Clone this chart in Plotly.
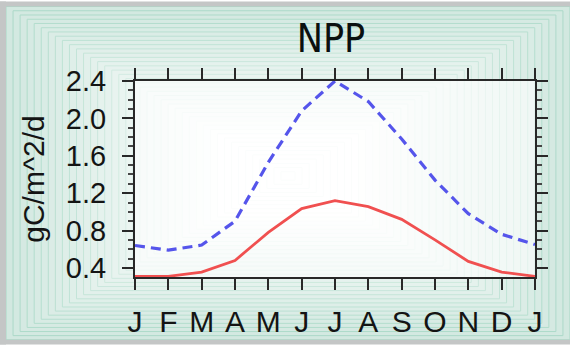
import plotly.graph_objects as go

# ---- data ----
months = ["J", "F", "M", "A", "M", "J", "J", "A", "S", "O", "N", "D", "J"]
month_pos = list(range(13))
npp_dashed = [0.64, 0.59, 0.645, 0.90, 1.53, 2.08, 2.40, 2.18, 1.78, 1.34, 0.98, 0.76, 0.65]
npp_solid = [0.31, 0.31, 0.355, 0.48, 0.78, 1.035, 1.12, 1.055, 0.92, 0.70, 0.47, 0.355, 0.31]
y_ticks = [0.4, 0.8, 1.2, 1.6, 2.0, 2.4]
y_ticktext = ["0.4", "0.8", "1.2", "1.6", "2.0", "2.4"]

W, H = 570, 350
ML, MR, MT, MB = 135, 35, 81, 69
PW, PH = W - ML - MR, H - MT - MB


def px2paper_x(px):
    return (px - ML) / PW


def px2paper_y(py):
    return (H - MB - py) / PH


def mix(c1, c2, t):
    return "rgb(%d,%d,%d)" % tuple(round(a + (b - a) * t) for a, b in zip(c1, c2))


shapes = []
# nested rectangle background (converging toward image centre)
N = 40
x0e, y0e, x1e, y1e = 6, 5, 570, 345
cx, cy = 288, 178
edge_fill = (210, 232, 224)
edge_line = (168, 216, 198)
white = (255, 255, 255)
for i in range(N):
    t = i / N
    a = x0e + (cx - x0e) * t
    b = y0e + (cy - y0e) * t
    c = x1e - (x1e - cx) * t
    d = y1e - (y1e - cy) * t
    tf = min(1.0, t * 1.3)
    shapes.append(dict(
        type="rect", xref="paper", yref="paper", layer="below",
        x0=px2paper_x(a), x1=px2paper_x(c), y0=px2paper_y(d), y1=px2paper_y(b),
        fillcolor=mix(edge_fill, white, tf),
        line=dict(color=mix(edge_line, (245, 250, 248), min(1.0, t * 1.4)), width=1),
    ))

# grey border (top, left, bottom)
grey = "rgb(196,198,198)"
for (a, b, c, d) in [(0, 0, 570, 5), (0, 0, 6, 350), (0, 345, 570, 350)]:
    shapes.append(dict(
        type="rect", xref="paper", yref="paper", layer="below",
        x0=px2paper_x(a), x1=px2paper_x(c), y0=px2paper_y(d), y1=px2paper_y(b),
        fillcolor=grey, line=dict(width=0),
    ))

# lighter plot area
shapes.append(dict(
    type="rect", xref="paper", yref="paper", layer="below",
    x0=0, x1=1, y0=0, y1=1,
    fillcolor="rgba(255,255,255,0.6)", line=dict(width=0),
))

fig = go.Figure()
fig.add_trace(go.Scatter(
    x=month_pos, y=npp_dashed, mode="lines",
    line=dict(color="rgb(85,85,235)", width=3.2, dash="10px,6px"),
    showlegend=False, hoverinfo="skip",
))
fig.add_trace(go.Scatter(
    x=month_pos, y=npp_solid, mode="lines",
    line=dict(color="rgb(240,80,80)", width=2.8),
    showlegend=False, hoverinfo="skip",
))

font_main = "Liberation Sans, Arial, Helvetica, sans-serif"
axis_color = "rgb(40,40,40)"

fig.update_layout(
    width=W, height=H,
    margin=dict(l=ML, r=MR, t=MT, b=MB, pad=0),
    paper_bgcolor="white",
    plot_bgcolor="rgba(0,0,0,0)",
    shapes=shapes,
    title=dict(
        text="NPP", x=331 / W, xanchor="center",
        y=1 - 52 / H, yanchor="bottom",
        font=dict(family="Liberation Sans Narrow, Arial Narrow, DejaVu Sans Condensed, Liberation Sans, sans-serif",
                  size=39, color="rgb(10,15,15)"),
    ),
    font=dict(family=font_main, color="rgb(20,20,20)"),
    xaxis=dict(
        range=[0, 12], tickmode="array", tickvals=month_pos, ticktext=months,
        ticks="outside", ticklen=11, tickwidth=2, tickcolor=axis_color,
        showline=True, linecolor=axis_color, linewidth=2, mirror="ticks",
        showgrid=False, zeroline=False,
        tickfont=dict(size=30, family=font_main), ticklabelstandoff=6,
    ),
    yaxis=dict(
        range=[0.303, 2.40], tickmode="array", tickvals=y_ticks, ticktext=y_ticktext,
        ticks="outside", ticklen=11, tickwidth=2, tickcolor=axis_color,
        showline=True, linecolor=axis_color, linewidth=2, mirror="ticks",
        showgrid=False, zeroline=False,
        minor=dict(dtick=0.1, tick0=0.0, ticks="outside", ticklen=5, tickwidth=1.5,
                   tickcolor="rgb(70,70,70)", showgrid=False),
        tickfont=dict(size=29, family=font_main), ticklabelstandoff=10,
        title=dict(text="gC/m^2/d", font=dict(size=30, family=font_main), standoff=12),
    ),
)

fig.write_html("out.html")
